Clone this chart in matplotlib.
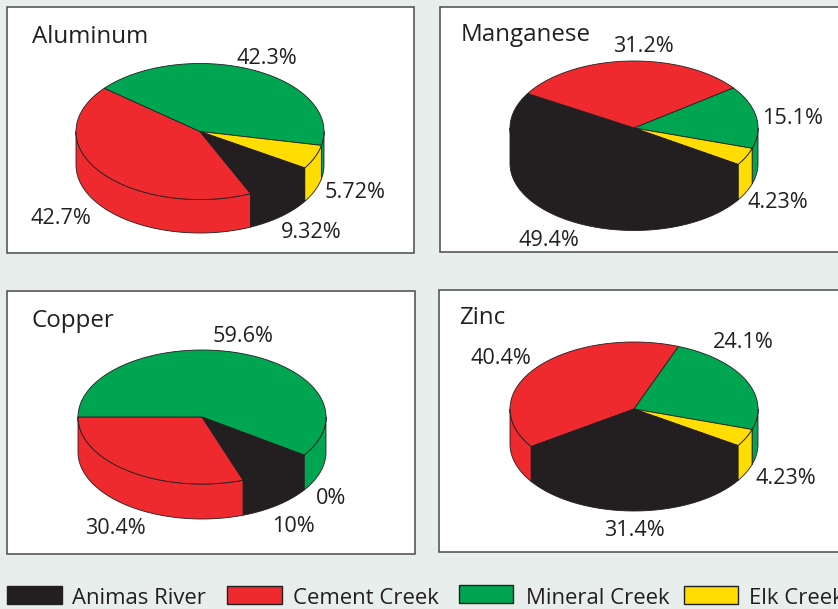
import numpy as np
import matplotlib
matplotlib.use('Agg')
import matplotlib.pyplot as plt
from matplotlib.patches import Polygon, Rectangle

plt.rcParams['font.family'] = ['Open Sans', 'DejaVu Sans']

# Sources in the clockwise order the slices run in every pie
sources = ['Cement Creek', 'Mineral Creek', 'Elk Creek', 'Animas River']
colors = ['#ee2a2f', '#00a551', '#ffdd00', '#231f20']

# Percent values, same order as sources
aluminum = [42.7, 42.3, 5.72, 9.32]
manganese = [31.2, 15.1, 4.23, 49.4]
copper = [30.4, 59.6, 0, 10]
zinc = [40.4, 24.1, 4.23, 31.4]

aluminum_labels = ['42.7%', '42.3%', '5.72%', '9.32%']
manganese_labels = ['31.2%', '15.1%', '4.23%', '49.4%']
copper_labels = ['30.4%', '59.6%', '0%', '10%']
zinc_labels = ['40.4%', '24.1%', '4.23%', '31.4%']

BG = '#e8eeec'
INK = '#231f20'
LABEL_SIZE = 15.6

fig = plt.figure(figsize=(8.38, 6.09), dpi=100, facecolor=BG)
ax = fig.add_axes([0, 0, 1, 1])
ax.set_xlim(0, 838)
ax.set_ylim(609, 0)
ax.axis('off')


def arc(cx, cy, rx, ry, a1, a2):
    # a1 > a2, angles run clockwise in degrees
    t = np.radians(np.linspace(a1, a2, max(int(abs(a1 - a2)) * 2, 2)))
    return np.column_stack([cx + rx * np.cos(t), cy - ry * np.sin(t)])


def draw_pie(values, start, cx, cy, rx, ry, depth):
    # side walls first, only the front half of the rim shows
    a = start
    tops = []
    for v, c in zip(values, colors):
        b = a - v * 3.6
        tops.append((a, b, c))
        a = b
    for a, b, c in tops:
        for shift in (0, -360):
            hi = min(a + shift, 0)
            lo = max(b + shift, -180)
            if hi > lo:
                upper = arc(cx, cy, rx, ry, hi, lo)
                lower = arc(cx, cy + depth, rx, ry, lo, hi)
                ax.add_patch(Polygon(np.vstack([upper, lower]), closed=True,
                                     fc=c, ec=INK, lw=0.6, joinstyle='round'))
    for a, b, c in tops:
        if a == b:
            continue
        pts = np.vstack([[cx, cy], arc(cx, cy, rx, ry, a, b)])
        ax.add_patch(Polygon(pts, closed=True, fc=c, ec=INK, lw=0.6,
                             joinstyle='round'))


def panel(x0, y0, x1, y1, title, tx, ty):
    ax.add_patch(Rectangle((x0, y0), x1 - x0, y1 - y0, fc='white', ec='#4a4a4a', lw=1.1))
    ax.text(tx, ty, title, fontsize=17.4, color=INK, ha='left', va='center')


def labels(texts, spots):
    for t, (x, y) in zip(texts, spots):
        ax.text(x, y, t, fontsize=LABEL_SIZE, color=INK, ha='center', va='center')


panel(7, 7, 414, 253, 'Aluminum', 32, 37)
draw_pie(aluminum, 294.2, 200, 131.5, 124, 68, 33.5)
labels(aluminum_labels, [(61, 218), (267, 58), (355, 192), (311, 232)])

panel(439.5, 7, 845, 252, 'Manganese', 461, 35)
draw_pie(manganese, 149, 634, 128, 124, 67, 35.5)
labels(manganese_labels, [(643, 46), (793, 118), (778, 202), (549, 240)])

panel(7, 291, 415, 554, 'Copper', 31, 321)
draw_pie(copper, 289.4, 202, 417, 124, 67, 35)
labels(copper_labels, [(115, 529), (243, 337), (331, 499), (293, 527)])

panel(438.5, 289.5, 845, 552, 'Zinc', 459, 318)
draw_pie(zinc, 214.4, 634, 409, 124, 67, 35)
labels(zinc_labels, [(501, 359), (743, 343), (786, 479), (634, 530)])

# legend row, swatch left edge / text left edge
legend_order = [3, 0, 1, 2]
swatch_x = [7, 227, 458.5, 683.5]
swatch_y = [585.5, 586, 584.5, 585.5]
text_x = [72, 293, 526, 749]
for i, sx, sy, tx in zip(legend_order, swatch_x, swatch_y, text_x):
    ax.add_patch(Rectangle((sx, sy), 54.5, 18, fc=colors[i], ec=INK, lw=1))
    ax.text(tx, 598.5, sources[i], fontsize=15.9, color=INK, ha='left', va='center')

fig.savefig('out.png', dpi=100, facecolor=BG)
